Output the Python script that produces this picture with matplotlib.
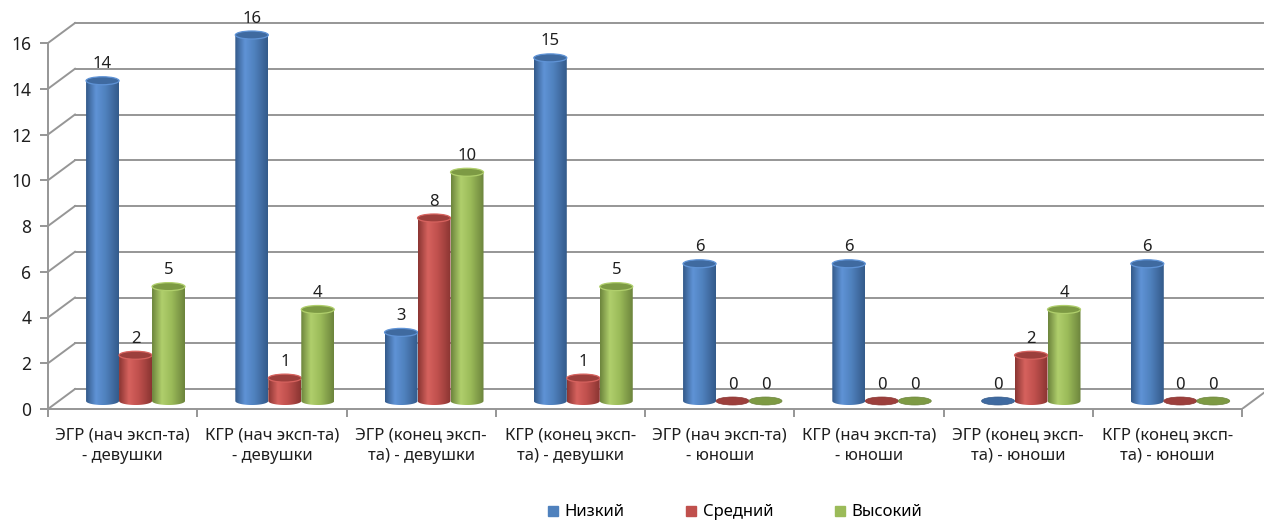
import numpy as np
import matplotlib.pyplot as plt
from matplotlib.patches import Ellipse, Polygon
from matplotlib.colors import LinearSegmentedColormap
from matplotlib.lines import Line2D

plt.rcParams['font.family'] = ['Noto Sans', 'DejaVu Sans']

# data
categories = [
    'ЭГР (нач эксп-та)\n- девушки',
    'КГР (нач эксп-та)\n- девушки',
    'ЭГР (конец эксп-\nта) - девушки',
    'КГР (конец эксп-\nта) - девушки',
    'ЭГР (нач эксп-та)\n- юноши',
    'КГР (нач эксп-та)\n- юноши',
    'ЭГР (конец эксп-\nта) - юноши',
    'КГР (конец эксп-\nта) - юноши',
]
series_names = ['Низкий', 'Средний', 'Высокий']
low = [14, 16, 3, 15, 6, 6, 0, 6]
mid = [2, 1, 8, 1, 0, 0, 2, 0]
high = [5, 4, 10, 5, 0, 0, 4, 0]
y_ticks = [0, 2, 4, 6, 8, 10, 12, 14, 16]

# (dark, light, base, top) per series
palette = [
    ('#345a8a', '#5f93d6', '#4f81bd', '#3f6aa0'),
    ('#8a3532', '#d6625e', '#c0504d', '#9c3f3c'),
    ('#6c843c', '#b0cf6c', '#9bbb59', '#7d9a44'),
]
grid_col = '#969696'
txt_col = '#1f1f1f'

# 3d look
depth_dx = 0.181
depth_dy = 0.874
bar_depth = 0.4
bar_w = 0.221
bar_x0 = 0.255
ell_b = 0.175

n_cat = len(categories)
x_max, y_max = 8.2, 17.6
px_x, px_y = 149.25, 22.875   # pixels per unit

fig = plt.figure(figsize=(12.64, 5.29), dpi=100)
ax = fig.add_axes([48 / 1264, 120 / 529, x_max * px_x / 1264, y_max * px_y / 529])
ax.set_autoscale_on(False)

# back wall gridlines and side diagonals
for v in y_ticks:
    ax.plot([depth_dx, n_cat + depth_dx], [v + depth_dy, v + depth_dy],
            color=grid_col, lw=1.4, zorder=1)
    ax.plot([0, depth_dx], [v, v + depth_dy], color=grid_col, lw=1.4, zorder=1)
ax.plot([n_cat, n_cat + depth_dx], [0, depth_dy], color=grid_col, lw=1.4, zorder=1)

grad = np.linspace(0, 1, 128).reshape(1, -1)
oy = bar_depth * depth_dy

order = 0
for i in range(n_cat):
    for j, vals in enumerate([low, mid, high]):
        v = vals[i]
        dark, light, base, top = palette[j]
        xl = i + bar_x0 + j * bar_w
        xr = xl + bar_w
        xc = (xl + xr) / 2
        yb = oy
        yt = v + oy
        z = 3 + order * 0.01
        order += 1
        if v > 0:
            cm = LinearSegmentedColormap.from_list(
                'c', [(0, dark), (0.3, light), (0.6, base), (1, dark)])
            t = np.linspace(np.pi, 2 * np.pi, 40)
            pts = np.column_stack([xc + bar_w / 2 * np.cos(t), yb + ell_b * np.sin(t)])
            pts = np.vstack([pts, [[xr, yt], [xl, yt]]])
            clip = Polygon(pts, closed=True, transform=ax.transData)
            im = ax.imshow(grad, extent=(xl, xr, yb - ell_b, yt), aspect='auto',
                           cmap=cm, origin='lower', zorder=z, interpolation='bilinear')
            im.set_clip_path(clip)
            ax.add_patch(Ellipse((xc, yt), bar_w, 2 * ell_b, facecolor=top,
                                 edgecolor=light, lw=0.9, zorder=z + 0.005))
        else:
            ax.add_patch(Ellipse((xc, yt), bar_w, 2 * ell_b, facecolor=top,
                                 edgecolor=dark, lw=0.5, zorder=z + 0.005))
        ax.text(xc, yt + 0.72, str(v), ha='center', va='center', fontsize=12,
                color=txt_col, zorder=10)

ax.set_xlim(0, x_max)
ax.set_ylim(0, y_max)

for s in ['top', 'right']:
    ax.spines[s].set_visible(False)
for s in ['left', 'bottom']:
    ax.spines[s].set_color(grid_col)
    ax.spines[s].set_linewidth(1.4)
ax.spines['left'].set_bounds(0, y_ticks[-1])
ax.spines['bottom'].set_bounds(0, n_cat)

ax.set_yticks(y_ticks)
ax.tick_params(axis='y', length=6, color=grid_col, width=1.4, labelsize=12.5,
               pad=6, labelcolor=txt_col)
ax.set_xticks(range(n_cat + 1))
ax.set_xticklabels([''] * (n_cat + 1))
ax.tick_params(axis='x', which='major', length=6, color=grid_col, width=1.4)
ax.set_xticks(np.arange(n_cat) + 0.5, minor=True)
ax.set_xticklabels(categories, minor=True, fontsize=12, linespacing=1.4,
                   color=txt_col)
ax.tick_params(axis='x', which='minor', length=0, pad=13)

handles = [Line2D([], [], marker='s', linestyle='', markersize=7,
                  color=palette[k][2]) for k in range(3)]
fig.legend(handles, series_names, loc='lower center', bbox_to_anchor=(0.581, -0.012),
           ncol=3, frameon=False, fontsize=12, handletextpad=0.3,
           columnspacing=3.6, handlelength=0.8)

fig.savefig('out.png', dpi=100)
